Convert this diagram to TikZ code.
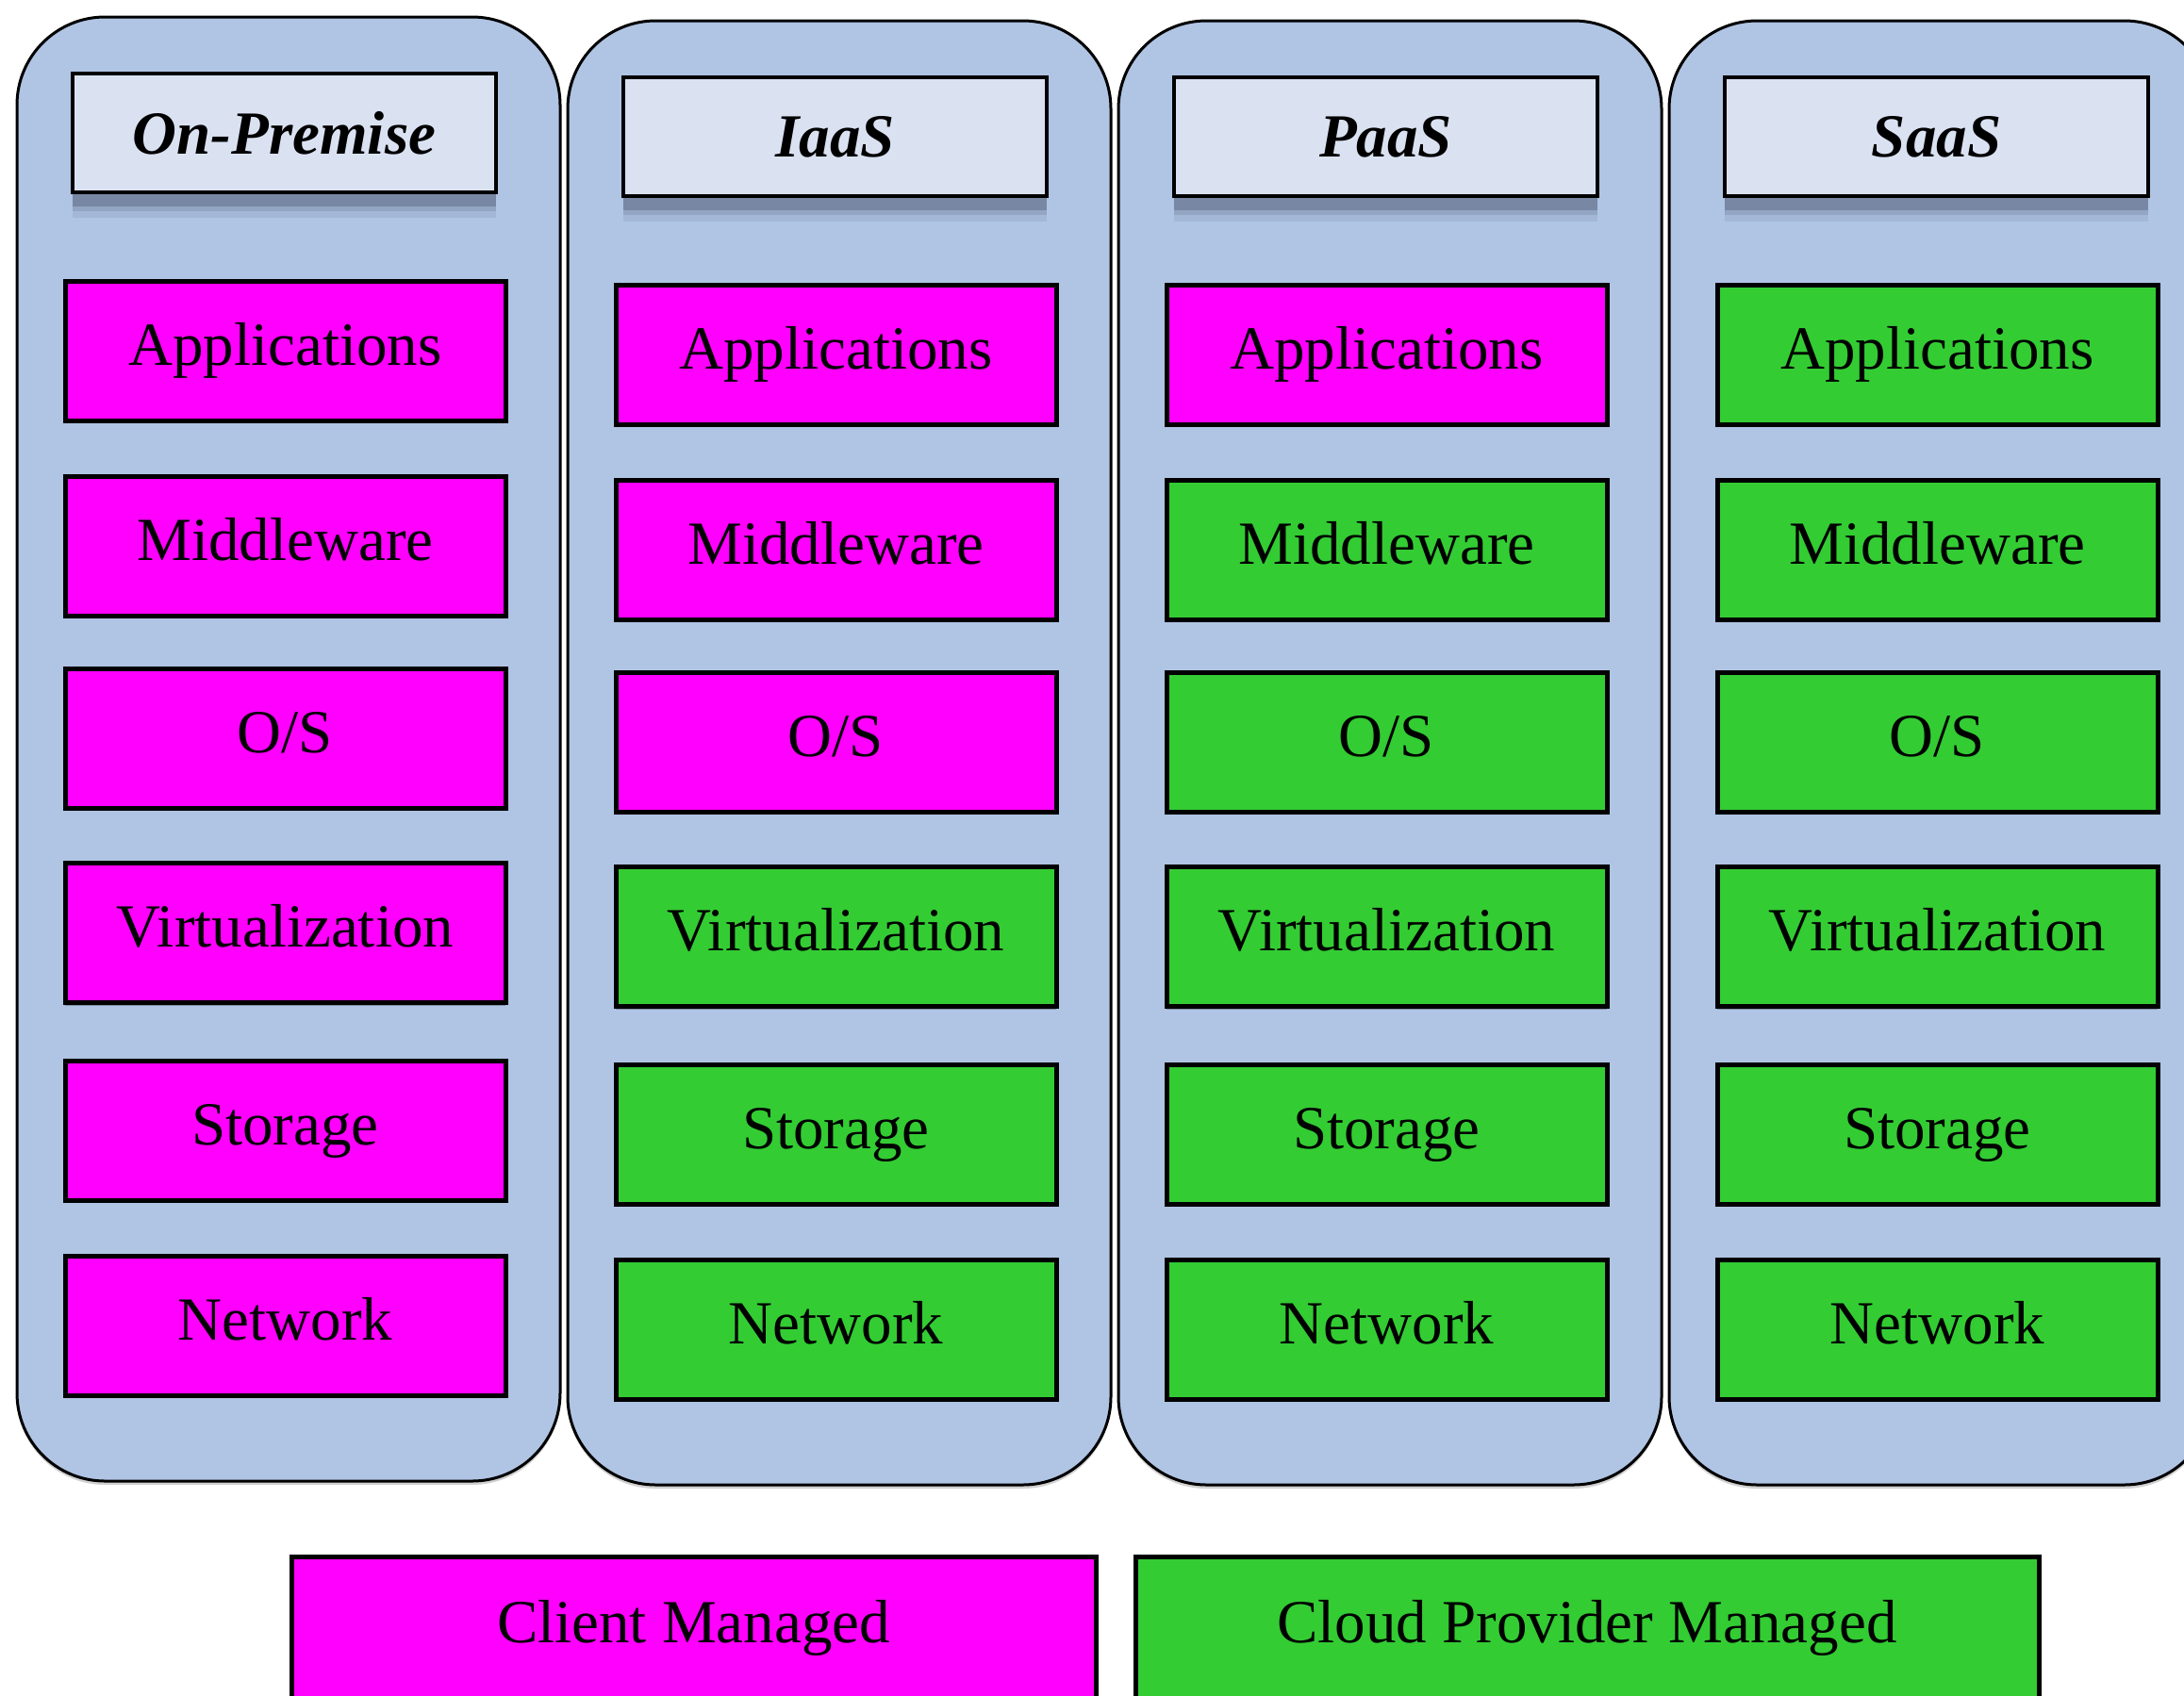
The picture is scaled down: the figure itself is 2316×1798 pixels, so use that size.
\documentclass[tikz,border=0pt]{standalone}
\usepackage{fontspec}
\setmainfont{Liberation Serif}
\definecolor{colfill}{HTML}{B0C4E4}
\definecolor{hdrfill}{HTML}{DAE2F2}
\definecolor{clientfill}{HTML}{FF00FF}
\definecolor{cloudfill}{HTML}{33CC33}
\definecolor{shadowc}{HTML}{4F5D78}
\def\u{0.3pt}
\tikzset{
  column/.style={draw=black, line width=0.9pt, fill=colfill,
    rounded corners=28pt, minimum width=576*\u, minimum height=1553*\u,
    inner sep=0pt,
    preaction={fill=black, opacity=0.18, transform canvas={yshift=-1.2pt}}},
  header/.style={draw=black, line width=1.2pt, fill=hdrfill,
    minimum width=449*\u, minimum height=126*\u, inner sep=0pt,
    font=\fontsize{19.5}{23}\selectfont\bfseries\itshape,
    preaction={fill=shadowc, opacity=0.4, transform canvas={yshift=-4.5pt}},
    preaction={fill=shadowc, opacity=0.2, transform canvas={yshift=-6pt}},
    preaction={fill=shadowc, opacity=0.12, transform canvas={yshift=-8pt}}},
  layer/.style={draw=black, line width=1.5pt,
    minimum width=467*\u, minimum height=148*\u, inner sep=0pt,
    text height=13.3pt, text depth=4.2pt,
    font=\fontsize{19.5}{23}\selectfont,
    preaction={fill=black, opacity=0.25, transform canvas={yshift=-1pt}}},
  client/.style={layer, fill=clientfill},
  cloud/.style={layer, fill=cloudfill},
}
\begin{document}
\begin{tikzpicture}[x=\u, y=-\u]
\useasboundingbox (0,0) rectangle (2316,1798);
\clip (0,0) rectangle (2316,1798);
\fill[white] (0,0) rectangle (2316,1798);

% service-model columns: name, centre x, vertical offset, header text, managed-by pattern
\foreach \n/\cx/\dy/\title/\a/\b/\c/\d/\e/\f in {
    onprem/306/0/On-Premise/client/client/client/client/client/client,
    iaas/890/4/IaaS/client/client/client/cloud/cloud/cloud,
    paas/1474/4/PaaS/client/cloud/cloud/cloud/cloud/cloud,
    saas/2058/4/SaaS/cloud/cloud/cloud/cloud/cloud/cloud} {
  \node[column] (\n-col) at (\cx, 794.5+\dy) {};
  \node[header] (\n-head) at (\cx-4.5, 141+\dy) {\title};
  \node[\a] (\n-app) at (\cx-3.5, 372+\dy)  {Applications};
  \node[\b] (\n-mid) at (\cx-3.5, 579+\dy)  {Middleware};
  \node[\c] (\n-os)  at (\cx-3.5, 783+\dy)  {O/S};
  \node[\d] (\n-virt) at (\cx-3.5, 989.5+\dy) {Virtualization};
  \node[\e] (\n-stor) at (\cx-3.5, 1199+\dy) {Storage};
  \node[\f] (\n-net) at (\cx-3.5, 1406+\dy) {Network};
}

% legend
\node[client, minimum width=853*\u, minimum height=152*\u] (legclient) at (735.5,1727) {Client Managed};
\node[cloud, minimum width=958*\u, minimum height=152*\u] (legcloud) at (1683,1727) {Cloud Provider Managed};
\end{tikzpicture}
\end{document}
